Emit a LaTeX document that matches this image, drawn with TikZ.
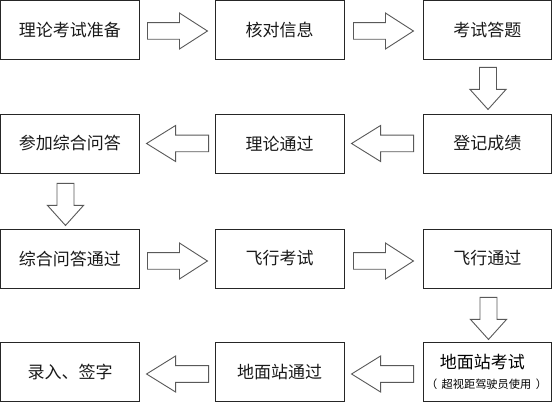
\documentclass[tikz,border=0pt]{standalone}
\usepackage{fontspec}
\setmainfont{Noto Sans CJK SC}
\usetikzlibrary{calc}
\tikzset{
  box/.style={draw=black!85, line width=0.9pt, rectangle, minimum height=59pt, inner sep=0pt, font=\fontsize{17}{20}\selectfont, text=black!90},
  c1/.style={box, minimum width=139pt},
  c2/.style={box, minimum width=129pt},
  c3/.style={box, minimum width=128.5pt},
  barrow/.style={draw=black!65, line width=0.9pt, fill=white, line join=miter}
}
\newcommand\arrR[1]{\draw[barrow] #1 ++(0,8.3) -- ++(32,0) -- ++(0,9.7) -- ++(28,-18) -- ++(-28,-18) -- ++(0,9.7) -- ++(-32,0) -- cycle;}
\newcommand\arrL[1]{\draw[barrow] #1 ++(0,8.3) -- ++(-33,0) -- ++(0,9.7) -- ++(-29,-18) -- ++(29,-18) -- ++(0,9.7) -- ++(33,0) -- cycle;}
\newcommand\arrD[1]{\draw[barrow] #1 ++(-8.5,0) -- ++(0,-22) -- ++(-9.5,0) -- ++(18,-20) -- ++(18,20) -- ++(-9.5,0) -- ++(0,22) -- cycle;}
\begin{document}
\begin{tikzpicture}[x=1pt,y=1pt]
\useasboundingbox (0,0) rectangle (552,402);
\node[c1] (A) at (70,372) {理论考试准备};
\node[c2] (B) at (279.5,372) {核对信息};
\node[c3] (C) at (487.25,372) {考试答题};
\node[c1] (D) at (70,258.5) {参加综合问答};
\node[c2] (E) at (279.5,258.5) {理论通过};
\node[c3] (F) at (487.25,258.5) {登记成绩};
\node[c1] (G) at (70,143.5) {综合问答通过};
\node[c2] (H) at (279.5,143.5) {飞行考试};
\node[c3] (I) at (487.25,143.5) {飞行通过};
\node[c1] (J) at (70,29.75) {录入、签字};
\node[c2] (K) at (279.5,29.75) {地面站通过};
\node[c3] (L) at (487.25,29.75) {};
\node[inner sep=0pt] (Lt) at ($(L.center)+(-5,10)$) {\fontsize{17}{20}\selectfont 地面站考试};
\node[inner sep=0pt] (Ls) at ($(L.center)+(-0.75,-11.75)$) {\fontsize{11.2}{13}\selectfont （\hspace{4.5pt}超视距驾驶员使用\hspace{4.5pt}）};
% arrows
\arrR{($(A.east)+(7.5,-1)$)}
\arrR{($(B.east)+(9,-1)$)}
\arrD{($(C.south)+(0.75,-7.5)$)}
\arrL{($(F.west)+(-9,0)$)}
\arrL{($(E.west)+(-6,0)$)}
\arrD{($(D.south)+(-4.5,-10)$)}
\arrR{($(G.east)+(7.5,-2.5)$)}
\arrR{($(H.east)+(9,-2.5)$)}
\arrD{($(I.south)+(1.25,-9)$)}
\arrL{($(L.west)+(-9,-1.75)$)}
\arrL{($(K.west)+(-6,-1.75)$)}
\end{tikzpicture}
\end{document}
